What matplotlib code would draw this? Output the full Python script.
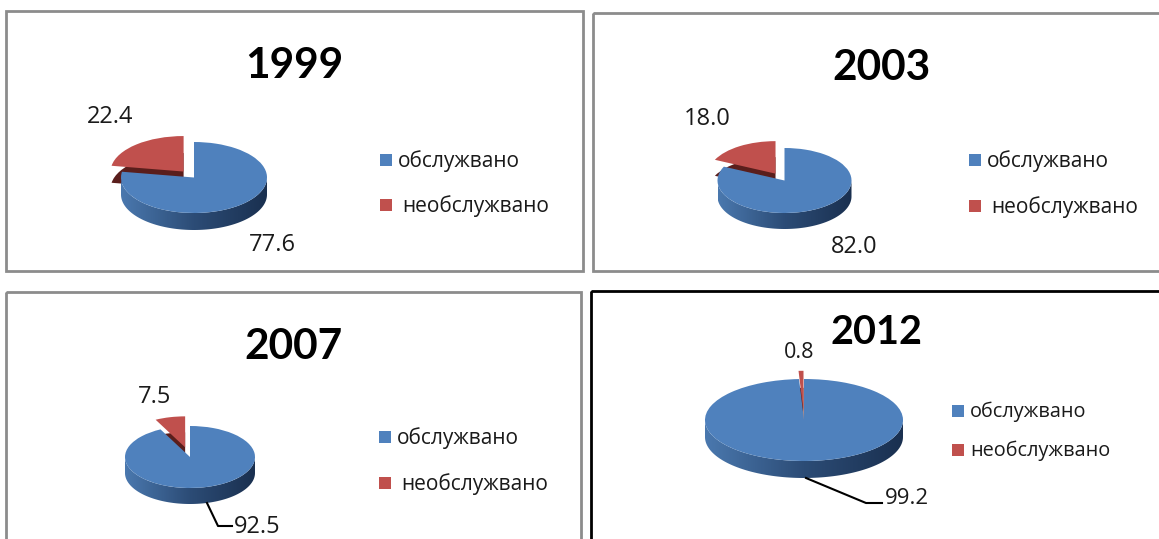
import numpy as np
import matplotlib
matplotlib.use('Agg')
import matplotlib.pyplot as plt
from matplotlib.patches import Rectangle, Polygon
from matplotlib.colors import LinearSegmentedColormap

W, H = 1159, 539

# Data
years = ['1999', '2003', '2007', '2012']
served = [77.6, 82.0, 92.5, 99.2]
unserved = [22.4, 18.0, 7.5, 0.8]
legend_labels = ['обслужвано', 'необслужвано']

# Colours
blue = '#4F81BD'
red = '#C0504D'
dark_red = '#5A1E1C'
rim_cmap = LinearSegmentedColormap.from_list('rim', ['#4A78AE', '#2C4C76', '#1A3050'])

# Layout in pixels of the picture
frames = [(6, 11, 577, 260, '#8C8C8C'), (593, 13, 570, 258, '#8C8C8C'),
          (6, 292, 575, 252, '#8C8C8C'), (591, 291, 572, 253, '#000000')]
title_pos = [(294, 66), (881, 68), (294, 347), (877, 332)]
title_size = [30.5, 30.5, 30.5, 28.5]
# cx, cy, rx, ry, rim depth, explode
pies = [(194, 177.5, 73, 35.5, 17, 0.22), (784.5, 180.5, 67, 32.5, 16, 0.25),
        (190, 457, 65, 31, 16, 0.32), (804, 420, 99, 41, 17, 0.2)]
small_pos = [(110, 117), (707, 119), (155, 397), (799, 353)]
big_pos = [(272, 245), (854, 247), (257, 527), (907, 499)]
legend_x = [(386, 398, 402), (975, 987, 991), (385, 397, 401), (958, 970, 970)]
legend_y = [(161, 206), (161, 207), (438, 484), (412, 451)]
label_size = [17, 17, 17, 16]
small_size = [17, 17, 17, 15.5]
legend_size = [15, 15, 15, 14.3]
leaders = {2: [(207, 503), (218, 526), (232, 526)],
           3: [(806, 478), (866, 503), (882, 503)]}

fig = plt.figure(figsize=(W / 100, H / 100), dpi=100, facecolor='white')

# overlay in pixel coordinates for frames and text
over = fig.add_axes([0, 0, 1, 1], zorder=5)
over.set_xlim(0, W)
over.set_ylim(H, 0)
over.axis('off')
over.patch.set_alpha(0)

for i, year in enumerate(years):
    x, y, w, h, c = frames[i]
    over.add_patch(Rectangle((x, y), w, h, fill=False, ec=c, lw=2))
    over.text(*title_pos[i], year, family='Lato', weight='bold', fontsize=title_size[i],
              ha='center', va='center', color='black')

    cx, cy, rx, ry, depth, expl = pies[i]
    k = 1.9
    ax = fig.add_axes([(cx - k * rx) / W, 1 - (cy + k * ry) / H, 2 * k * rx / W, 2 * k * ry / H])
    values = [served[i], unserved[i]]
    d = depth / ry

    # dark side of the pulled out slice
    side, _ = ax.pie(values, colors=[blue, dark_red], startangle=90, counterclock=False,
                     explode=[0, expl], center=(0, -d))
    side[0].set_visible(False)
    # top faces
    top, _ = ax.pie(values, colors=[blue, red], startangle=90, counterclock=False,
                    explode=[0, expl])
    for wedge in top:
        wedge.set_zorder(4)

    # rim under the big slice, gradient from left to right
    t = np.linspace(np.pi, 2 * np.pi, 100)
    px = np.cos(t)
    py = np.sin(t)
    rim = np.column_stack([np.r_[px, px[::-1]], np.r_[py, py[::-1] - d]])
    clip = Polygon(rim, transform=ax.transData, fc='none', ec='none')
    ax.add_patch(clip)
    img = ax.imshow(np.linspace(0, 1, 200)[None, :], cmap=rim_cmap, aspect='auto',
                    extent=(-1, 1, -1 - d, 0), zorder=3)
    img.set_clip_path(clip)

    ax.set_aspect('auto')
    ax.set_xlim(-k, k)
    ax.set_ylim(-k, k)
    ax.axis('off')

    # value labels
    over.text(*small_pos[i], f'{unserved[i]:.1f}', family='Open Sans', fontsize=small_size[i],
              ha='center', va='center', color='#1A1A1A')
    over.text(*big_pos[i], f'{served[i]:.1f}', family='Open Sans', fontsize=label_size[i],
              ha='center', va='center', color='#1A1A1A')
    if i in leaders:
        lx, ly = zip(*leaders[i])
        over.plot(lx, ly, color='black', lw=1.5)

    # legend
    mx, tx1, tx2 = legend_x[i]
    for j, (col, tx) in enumerate(zip([blue, red], [tx1, tx2])):
        over.add_patch(Rectangle((mx - 6, legend_y[i][j] - 7), 12, 12, fc=col, ec='none'))
        over.text(tx, legend_y[i][j], legend_labels[j], family='Open Sans', fontsize=legend_size[i],
                  ha='left', va='center', color='#1A1A1A')

fig.savefig('out.png', dpi=100)
